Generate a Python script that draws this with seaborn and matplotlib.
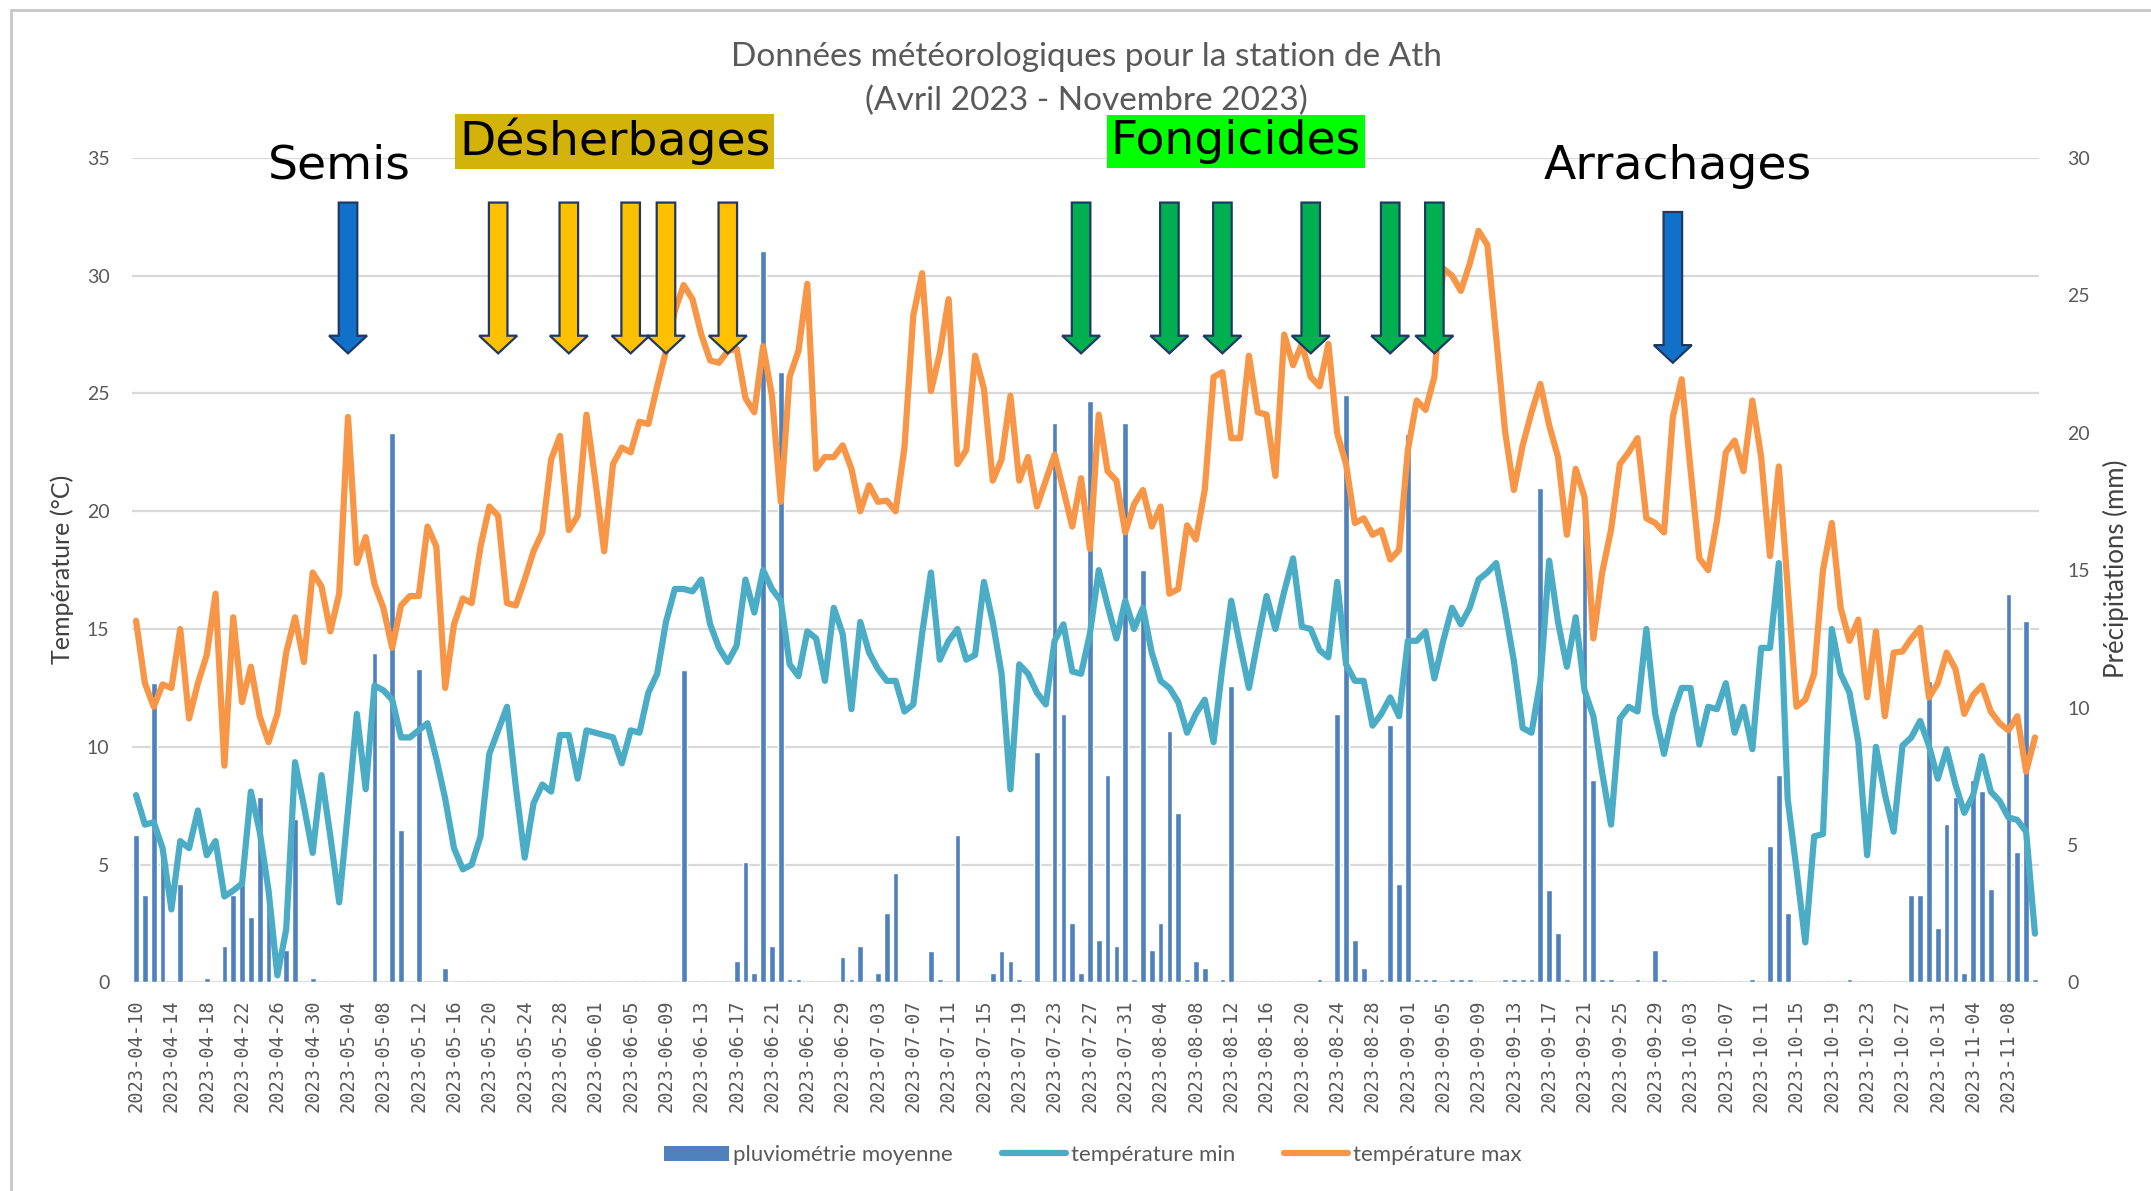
import matplotlib
matplotlib.use("Agg")
import matplotlib.pyplot as plt
import seaborn as sns
import numpy as np
import pandas as pd
from matplotlib.patches import FancyArrow, Patch
from matplotlib.lines import Line2D

start_date = "2023-04-10"
end_date = "2023-11-11"

# température max (°C), un point par jour
temp_max = [
    15.35, 12.7, 11.7, 12.65, 12.5, 15.0, 11.2, 12.7, 13.9, 16.5,
    9.2, 15.5, 11.9, 13.4, 11.3, 10.2, 11.4, 14.0, 15.5, 13.6,
    17.4, 16.8, 14.9, 16.5, 24.0, 17.8, 18.9, 16.9, 15.9, 14.2,
    16.0, 16.4, 16.4, 19.35, 18.5, 12.5, 15.2, 16.3, 16.1, 18.5,
    20.2, 19.8, 16.1, 16.0, 17.1, 18.3, 19.1, 22.2, 23.2, 19.2,
    19.8, 24.1, 21.3, 18.3, 22.0, 22.7, 22.5, 23.8, 23.7, 25.3,
    26.8, 28.5, 29.6, 29.0, 27.5, 26.4, 26.3, 26.8, 26.9, 24.8,
    24.2, 27.0, 24.9, 20.4, 25.7, 26.8, 29.65, 21.8, 22.3, 22.3,
    22.8, 21.8, 20.0, 21.1, 20.4, 20.45, 20.0, 22.7, 28.3, 30.1,
    25.1, 26.7, 29.0, 22.0, 22.6, 26.6, 25.2, 21.3, 22.2, 24.9,
    21.3, 22.3, 20.2, 21.3, 22.4, 20.9, 19.35, 21.4, 18.4, 24.1,
    21.7, 21.3, 19.1, 20.3, 20.9, 19.35, 20.2, 16.5, 16.7, 19.4,
    18.8, 20.9, 25.7, 25.9, 23.1, 23.1, 26.6, 24.2, 24.1, 21.5,
    27.5, 26.2, 27.1, 25.7, 25.3, 27.1, 23.3, 22.0, 19.5, 19.7,
    19.0, 19.2, 17.95, 18.35, 22.6, 24.7, 24.3, 25.7, 30.3, 30.0,
    29.35, 30.5, 31.9, 31.3, 27.4, 23.4, 20.9, 22.8, 24.2, 25.4,
    23.65, 22.3, 19.0, 21.8, 20.6, 14.6, 17.4, 19.2, 22.0, 22.5,
    23.1, 19.7, 19.5, 19.1, 24.0, 25.6, 21.8, 18.0, 17.5, 19.6,
    22.5, 23.0, 21.7, 24.7, 22.3, 18.1, 21.9, 16.8, 11.7, 12.0,
    13.1, 17.5, 19.5, 15.9, 14.5, 15.4, 12.1, 14.9, 11.3, 14.0,
    14.05, 14.6, 15.05, 12.1, 12.7, 14.0, 13.3, 11.4, 12.2, 12.6,
    11.5, 11.0, 10.7, 11.3, 8.95, 10.4,
]

# température min (°C)
temp_min = [
    7.95, 6.7, 6.8, 5.7, 3.1, 6.0, 5.7, 7.3, 5.4, 6.0,
    3.65, 3.9, 4.2, 8.1, 6.4, 3.9, 0.3, 2.25, 9.35, 7.5,
    5.5, 8.8, 6.2, 3.4, 7.3, 11.4, 8.2, 12.6, 12.4, 12.0,
    10.4, 10.4, 10.7, 11.0, 9.5, 7.8, 5.7, 4.8, 5.0, 6.2,
    9.7, 10.7, 11.7, 8.3, 5.3, 7.6, 8.4, 8.1, 10.5, 10.5,
    8.65, 10.7, 10.6, 10.5, 10.4, 9.3, 10.7, 10.6, 12.3, 13.1,
    15.3, 16.7, 16.7, 16.6, 17.1, 15.2, 14.2, 13.6, 14.3, 17.1,
    15.7, 17.5, 16.7, 16.2, 13.5, 13.0, 14.9, 14.6, 12.8, 15.9,
    14.8, 11.6, 15.3, 14.0, 13.3, 12.8, 12.8, 11.5, 11.8, 14.8,
    17.4, 13.7, 14.5, 15.0, 13.7, 13.9, 17.0, 15.3, 13.1, 8.2,
    13.5, 13.1, 12.3, 11.8, 14.5, 15.2, 13.2, 13.1, 14.8, 17.5,
    16.0, 14.6, 16.2, 15.0, 15.9, 14.0, 12.8, 12.5, 11.9, 10.6,
    11.4, 12.0, 10.2, 13.4, 16.2, 14.3, 12.5, 14.5, 16.4, 15.0,
    16.6, 18.0, 15.1, 15.0, 14.1, 13.8, 17.0, 13.5, 12.8, 12.8,
    10.9, 11.4, 12.1, 11.3, 14.5, 14.5, 14.9, 12.9, 14.5, 15.9,
    15.2, 15.9, 17.1, 17.4, 17.8, 15.8, 13.65, 10.8, 10.6, 12.8,
    17.9, 15.3, 13.4, 15.5, 12.4, 11.3, 8.9, 6.7, 11.2, 11.7,
    11.5, 15.0, 11.4, 9.7, 11.4, 12.5, 12.5, 10.1, 11.7, 11.6,
    12.7, 10.6, 11.7, 9.9, 14.2, 14.2, 17.8, 7.8, 4.8, 1.7,
    6.2, 6.3, 15.0, 13.1, 12.3, 10.2, 5.4, 10.0, 8.0, 6.4,
    10.05, 10.4, 11.1, 10.05, 8.65, 9.9, 8.4, 7.2, 7.95, 9.6,
    8.1, 7.7, 7.0, 6.9, 6.4, 2.07,
]

# pluviométrie moyenne (mm)
rain = [
    5.36, 3.17, 10.9, 4.9, 0, 3.57, 0, 0, 0.15, 0,
    1.34, 3.17, 4.17, 2.37, 6.76, 2.77, 0, 1.18, 5.96, 0,
    0.15, 0, 0, 0, 0, 0, 0, 12.0, 0, 20.0,
    5.56, 0, 11.4, 0, 0, 0.54, 0, 0, 0, 0,
    0, 0, 0, 0, 0, 0, 0, 0, 0, 0,
    0, 0, 0, 0, 0, 0, 0, 0, 0, 0,
    0, 0, 11.36, 0, 0, 0, 0, 0, 0.78, 4.37,
    0.34, 26.6, 1.34, 22.2, 0.14, 0.14, 0, 0, 0, 0,
    0.94, 0.14, 1.34, 0, 0.34, 2.53, 3.97, 0, 0, 0,
    1.14, 0.14, 0, 5.36, 0, 0, 0, 0.34, 1.14, 0.78,
    0.14, 0, 8.37, 0, 20.37, 9.75, 2.17, 0.34, 21.17, 1.53,
    7.55, 1.34, 20.37, 0.14, 15.0, 1.18, 2.17, 9.15, 6.18, 0.14,
    0.78, 0.54, 0, 0.14, 10.8, 0, 0, 0, 0, 0,
    0, 0, 0, 0, 0.14, 0, 9.77, 21.37, 1.53, 0.54,
    0, 0.14, 9.35, 3.57, 19.97, 0.14, 0.14, 0.14, 0, 0.14,
    0.14, 0.14, 0, 0, 0, 0.14, 0.14, 0.14, 0.14, 18.0,
    3.37, 1.79, 0.14, 0, 17.2, 7.37, 0.14, 0.14, 0, 0,
    0.14, 0, 1.18, 0.14, 0, 0, 0, 0, 0, 0,
    0, 0, 0, 0.14, 0, 4.98, 7.55, 2.53, 0, 0,
    0, 0, 0, 0, 0.14, 0, 0, 0, 0, 0,
    0, 3.17, 3.17, 10.96, 1.97, 5.76, 6.76, 0.34, 7.36, 6.96,
    3.39, 0, 14.13, 4.76, 13.16, 0.14,
]

semis_dates = ["2023-05-04"]
desherbage_dates = ["2023-05-21", "2023-05-29", "2023-06-05", "2023-06-09", "2023-06-16"]
fongicide_dates = ["2023-07-26", "2023-08-05", "2023-08-11", "2023-08-21", "2023-08-30", "2023-09-04"]
arrachage_dates = ["2023-10-01"]

dates = pd.date_range(start_date, end_date, freq="D")
df = pd.DataFrame({
    "jour": np.arange(len(dates)),
    "pluie": rain,
    "tmin": temp_min,
    "tmax": temp_max,
})

BAR = "#4F81BD"
TEAL = "#4BACC6"
ORANGE = "#F79646"
GRID = "#D9D9D9"
TXT = "#595959"

sns.set_theme(style="white")
plt.rcParams["font.family"] = ["Lato", "DejaVu Sans"]

fig = plt.figure(figsize=(21.51, 11.91), dpi=100)
ax = fig.add_axes([0.0612, 0.1751, 0.8869, 0.6924])
ax2 = ax.twinx()

# pluie sur l'axe secondaire, dessinée sous les courbes
for t in range(0, 36, 5):
    ax2.axhline(t * 30 / 35, color=GRID, lw=1.6, zorder=0)
sns.barplot(data=df, x="jour", y="pluie", ax=ax2, color=BAR, saturation=1,
            width=0.65, native_scale=True, zorder=2)

sns.lineplot(data=df, x="jour", y="tmin", ax=ax, color=TEAL, linewidth=4.5,
             solid_joinstyle="round", solid_capstyle="round")
sns.lineplot(data=df, x="jour", y="tmax", ax=ax, color=ORANGE, linewidth=4.5,
             solid_joinstyle="round", solid_capstyle="round")

ax.set_zorder(ax2.get_zorder() + 1)
ax.patch.set_visible(False)

ax.set_xlim(-0.5, len(dates) - 0.5)
ax.set_ylim(0, 35)
ax2.set_ylim(0, 30)
ax.set_yticks(range(0, 36, 5))
ax2.set_yticks(range(0, 31, 5))
tick_idx = list(range(0, len(dates), 4))
ax.set_xticks(tick_idx)
ax.set_xticklabels([dates[i].strftime("%Y-%m-%d") for i in tick_idx],
                   rotation=90, family="DejaVu Sans Mono", fontsize=13.5, color=TXT)
ax.tick_params(axis="x", length=0, pad=12)
ax.tick_params(axis="y", length=0, pad=16, labelsize=14, labelcolor=TXT)
ax2.tick_params(axis="y", length=0, pad=20, labelsize=14, labelcolor=TXT)
for a in (ax, ax2):
    a.grid(False)
    a.set_xlabel("")
    a.set_ylabel("")
    for s in a.spines.values():
        s.set_visible(False)

# flèches des interventions
def day_of(d):
    return (pd.Timestamp(d) - dates[0]).days

def arrows(day_list, color, top=33.1, tip=26.7):
    for d in day_list:
        x = day_of(d)
        ax.add_patch(FancyArrow(x, top, 0, tip - top, width=2.1, head_width=4.3,
                                head_length=0.75, length_includes_head=True,
                                facecolor=color, edgecolor="#1F3864", lw=1.6,
                                zorder=10, clip_on=False))

arrows(semis_dates, "#1170C8")
arrows(desherbage_dates, "#FFC000")
arrows(fongicide_dates, "#00B050")
arrows(arrachage_dates, "#1170C8", top=32.7, tip=26.3)

big = dict(fontsize=34, family="DejaVu Sans", color="black", ha="center",
           va="center", clip_on=False, zorder=11)
ax.text(23.0, 34.65, "Semis", **big)
ax.text(54.2, 35.7, "Désherbages", **big,
        bbox=dict(boxstyle="square,pad=0.08", facecolor="#D3B30A", edgecolor="none"))
ax.text(124.5, 35.7, "Fongicides", **big,
        bbox=dict(boxstyle="square,pad=0.08", facecolor="#00FF00", edgecolor="none"))
ax.text(174.5, 34.65, "Arrachages", **big)

fig.text(0.505, 0.952, "Données météorologiques pour la station de Ath",
         ha="center", va="center", fontsize=24, color=TXT)
fig.text(0.505, 0.915, "(Avril 2023 - Novembre 2023)",
         ha="center", va="center", fontsize=24, color=TXT)
fig.text(0.0288, 0.522, "Température (°C)", rotation=90, ha="center",
         va="center", fontsize=18, color="#404040")
fig.text(0.9837, 0.522, "Précipitations (mm)", rotation=90, ha="center",
         va="center", fontsize=18.5, color="#404040")

handles = [
    Patch(facecolor=BAR, edgecolor="none", label="pluviométrie moyenne"),
    Line2D([], [], color=TEAL, lw=4.5, solid_capstyle="round", label="température min"),
    Line2D([], [], color=ORANGE, lw=4.5, solid_capstyle="round", label="température max"),
]
fig.legend(handles=handles, loc="center", bbox_to_anchor=(0.508, 0.030), ncol=3,
           frameon=False, fontsize=16, labelcolor=TXT, handlelength=2.9,
           columnspacing=2.2, handletextpad=0.2)

# cadre du graphique
fig.add_artist(Line2D([0.005, 1], [0.992, 0.992], transform=fig.transFigure,
                      color="#C8C8C8", lw=2))
fig.add_artist(Line2D([0.005, 0.005], [0, 0.992], transform=fig.transFigure,
                      color="#C8C8C8", lw=2))

fig.savefig("out.png", dpi=100)
